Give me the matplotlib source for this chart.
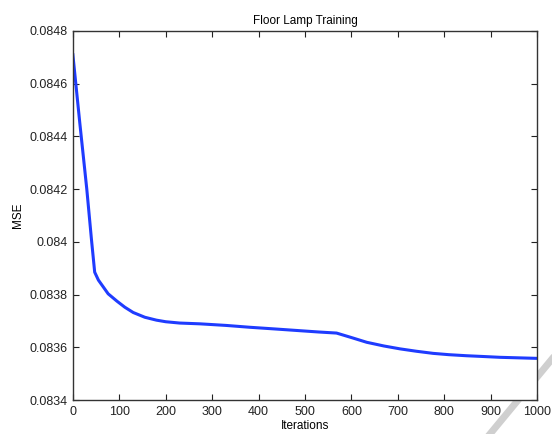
import matplotlib
matplotlib.use("Agg")
import matplotlib.pyplot as plt
from matplotlib.ticker import FuncFormatter
from matplotlib.lines import Line2D

iterations = [0, 15, 30, 40, 47, 55, 76, 95, 112, 130, 155, 180, 200, 230, 274, 330, 381, 440, 489, 530, 568, 600, 633, 670, 705, 740, 776, 810, 848, 885, 920, 960, 1000]
mse = [0.08471, 0.08445, 0.08420, 0.08401, 0.083885, 0.083855, 0.083803, 0.083775, 0.083752, 0.083732, 0.083714, 0.083703, 0.083697, 0.083692, 0.083689, 0.083683, 0.083676, 0.083669, 0.083663, 0.083658, 0.083654, 0.083637, 0.083619, 0.083605, 0.083594, 0.083585, 0.083577, 0.083572, 0.083568, 0.083565, 0.083562, 0.08356, 0.083558]

x_ticks = list(range(0, 1001, 100))
y_ticks = [0.0834, 0.0836, 0.0838, 0.0840, 0.0842, 0.0844, 0.0846, 0.0848]

plt.rcParams['font.family'] = ['Liberation Sans', 'DejaVu Sans']
fig = plt.figure(figsize=(5.52, 4.34), dpi=100)
ax = fig.add_axes([0.132, 0.0783, 0.841, 0.8503])
ax.plot(iterations, mse, color='#1f3cff', lw=2.2, solid_joinstyle='round')
ax.set_xlim(0, 1000)
ax.set_ylim(0.0834, 0.0848)
ax.set_xticks(x_ticks)
ax.set_yticks(y_ticks)
ax.yaxis.set_major_formatter(FuncFormatter(lambda v, p: '{:g}'.format(round(v, 5))))
ax.tick_params(direction='in', top=True, right=True, length=4, width=0.8, labelsize=9, colors='#222222', pad=4)
for s in ax.spines.values():
    s.set_linewidth(1.0)
    s.set_color('#333333')
ax.set_title('Floor Lamp Training', fontsize=8.5, pad=5)
ax.set_xlabel('Iterations', fontsize=8.5, labelpad=2)
ax.set_ylabel('MSE', fontsize=8.5, labelpad=4)

fig.add_artist(Line2D([490/552, 552/552], [1-434/434, 1-359/434], transform=fig.transFigure, color='#cfcfcf', lw=5, zorder=-1))
fig.savefig('out.png', dpi=100)
